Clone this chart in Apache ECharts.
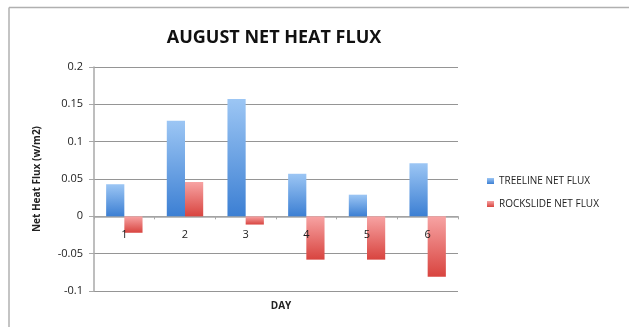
<!DOCTYPE html>
<html>
<head>
<meta charset="utf-8">
<script src="https://cdn.jsdelivr.net/npm/echarts@6/dist/echarts.min.js"></script>
<style>
  html, body { margin: 0; padding: 0; background: #fff; }
  #chart { width: 629px; height: 327px; }
</style>
</head>
<body>
<div id="chart"></div>
<script>
// Daily net heat flux for August at the two study sites
const days = ['1', '2', '3', '4', '5', '6'];
const treelineFlux = [0.043, 0.128, 0.157, 0.057, 0.029, 0.071];
const rockslideFlux = [-0.022, 0.046, -0.011, -0.058, -0.058, -0.081];
const seriesNames = ['TREELINE NET FLUX', 'ROCKSLIDE NET FLUX'];
const yMin = -0.1;
const yMax = 0.2;

const FONT = '"Open Sans", "Liberation Sans", sans-serif';
const GRID = { left: 94, right: 171, top: 67, bottom: 36 };
const plotHeight = 327 - GRID.top - GRID.bottom;
// distance of the zero line above the bottom of the plot area
const zeroLift = plotHeight * (0 - yMin) / (yMax - yMin);

function grad(top, bottom) {
  return new echarts.graphic.LinearGradient(0, 0, 0, 1, [
    { offset: 0, color: top },
    { offset: 1, color: bottom }
  ]);
}

const chart = echarts.init(document.getElementById('chart'), null, { renderer: 'canvas' });

chart.setOption({
  animation: false,
  backgroundColor: '#ffffff',
  title: [
    {
      text: 'AUGUST NET HEAT FLUX',
      left: 269,
      top: 24,
      textAlign: 'center',
      textStyle: { fontFamily: FONT, fontSize: 18, fontWeight: 'bold', color: '#111' }
    },
    {
      text: 'DAY',
      left: 276,
      top: 296,
      textAlign: 'center',
      textStyle: { fontFamily: FONT, fontSize: 10, fontWeight: 'bold', color: '#222' }
    }
  ],
  graphic: [
    // frame around the chart
    { type: 'line', shape: { x1: 9, y1: 7.5, x2: 629, y2: 7.5 }, style: { stroke: '#b0b0b0', lineWidth: 1.5 } },
    { type: 'line', shape: { x1: 9, y1: 7.5, x2: 9, y2: 327 }, style: { stroke: '#b0b0b0', lineWidth: 1.5 } }
  ],
  legend: {
    orient: 'vertical',
    left: 482,
    top: 171,
    itemWidth: 7,
    itemHeight: 6,
    itemGap: 13,
    icon: 'rect',
    data: seriesNames,
    textStyle: { fontFamily: FONT, fontSize: 10, color: '#222' }
  },
  grid: GRID,
  xAxis: [
    {
      // axis line drawn along zero
      type: 'category',
      data: days,
      axisLine: { onZero: true, lineStyle: { color: '#a8a8a8', width: 1.5 } },
      axisTick: { show: true, length: 3, lineStyle: { color: '#a8a8a8' } },
      axisLabel: { show: false },
      splitLine: { show: false }
    },
    {
      // day labels hanging just under the zero line, drawn over the bars
      type: 'category',
      data: days,
      position: 'bottom',
      offset: -zeroLift,
      z: 10,
      axisLine: { show: false, onZero: false },
      axisTick: { show: false },
      axisLabel: { margin: 13, fontFamily: FONT, fontSize: 11, color: '#222' },
      splitLine: { show: false }
    }
  ],
  yAxis: {
    type: 'value',
    min: yMin,
    max: yMax,
    interval: 0.05,
    axisLine: { show: true, lineStyle: { color: '#a8a8a8', width: 1.5 } },
    axisTick: { show: true, length: 5, lineStyle: { color: '#a8a8a8' } },
    axisLabel: {
      margin: 11,
      fontFamily: FONT,
      fontSize: 11,
      color: '#222',
      formatter: v => String(parseFloat(v.toFixed(2)))
    },
    splitLine: { show: true, lineStyle: { color: '#959595', width: 1 } },
    name: 'Net Heat Flux (w/m2)',
    nameLocation: 'middle',
    nameGap: 52,
    nameTextStyle: { fontFamily: FONT, fontSize: 10, fontWeight: 'bold', color: '#222' }
  },
  series: [
    {
      name: seriesNames[0],
      type: 'bar',
      data: treelineFlux,
      barGap: '0%',
      barCategoryGap: '40%',
      itemStyle: { color: grad('#9cc6f4', '#3c7fd3') }
    },
    {
      name: seriesNames[1],
      type: 'bar',
      data: rockslideFlux,
      barGap: '0%',
      barCategoryGap: '40%',
      itemStyle: { color: grad('#f7a3a3', '#d8443f') }
    }
  ]
});
</script>
</body>
</html>
